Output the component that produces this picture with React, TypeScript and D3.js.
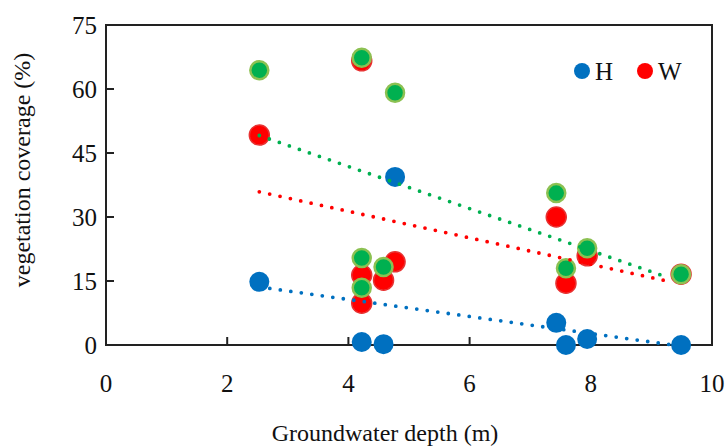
import React from "react";
import * as d3 from "d3";

const depthH = [2.53, 4.22, 4.58, 4.77, 7.43, 7.59, 7.94, 9.49];
const coverH = [14.8, 0.7, 0.2, 39.4, 5.2, 0, 1.4, 0];

const depthW = [2.53, 4.22, 4.22, 4.22, 4.58, 4.77, 7.43, 7.59, 7.94, 9.49];
const coverW = [49.2, 66.6, 16.4, 9.8, 15.2, 19.5, 30.0, 14.5, 20.9, 16.6];

const depthG = [2.53, 4.22, 4.22, 4.22, 4.58, 4.77, 7.43, 7.59, 7.94, 9.49];
const coverG = [64.4, 67.3, 20.4, 13.4, 18.3, 59.1, 35.6, 18.0, 22.7, 16.6];

// trendline end points: [x0, y0, x1, y1]
const trendH = [2.53, 13.6, 9.3, 0.1];
const trendW = [2.53, 35.9, 9.32, 14.8];
const trendG = [2.53, 49.1, 9.3, 15.7];

const xTicks = [0, 2, 4, 6, 8, 10];
const yTicks = [0, 15, 30, 45, 60, 75];

const legendLabels = ["H", "W"];

const W = 728;
const H = 448;
const m = { left: 106, right: 712, top: 25, bottom: 345 };

const BLUE = "#0070C0";
const RED = "#FF0000";
const GREEN = "#00B050";
const GREEN_EDGE = "#8CC152";
const FONT = "'Liberation Serif', 'Times New Roman', serif";

export default function App() {
  const x = d3.scaleLinear().domain([0, 10]).range([m.left, m.right]);
  const y = d3.scaleLinear().domain([0, 75]).range([m.bottom, m.top]);
  const line = d3
    .line<[number, number]>()
    .x((d) => x(d[0]))
    .y((d) => y(d[1]));
  const trend = (t: number[]) =>
    line([
      [t[0], t[1]],
      [t[2], t[3]],
    ]) || "";

  const r = 10;

  return (
    <svg
      width={W}
      height={H}
      style={{ position: "absolute", left: 0, top: 0, background: "#fff" }}
      fontFamily={FONT}
    >
      <defs>
        <filter id="soft" x="-50%" y="-50%" width="200%" height="200%">
          <feGaussianBlur stdDeviation="0.6" />
        </filter>
      </defs>
      {/* frame */}
      <rect
        x={m.left}
        y={m.top}
        width={m.right - m.left}
        height={m.bottom - m.top}
        fill="none"
        stroke="#222"
        strokeWidth={2}
      />
      {/* ticks */}
      {yTicks.slice(1, -1).map((t) => (
        <line key={"yt" + t} x1={m.left} x2={m.left + 8} y1={y(t)} y2={y(t)} stroke="#222" strokeWidth={2} />
      ))}
      {xTicks.slice(1, -1).map((t) => (
        <line key={"xt" + t} x1={x(t)} x2={x(t)} y1={m.bottom} y2={m.bottom - 8} stroke="#222" strokeWidth={2} />
      ))}
      {/* tick labels */}
      {yTicks.map((t) => (
        <text key={"yl" + t} x={m.left - 9} y={y(t)} dy="0.35em" textAnchor="end" fontSize={25} fill="#111">
          {t}
        </text>
      ))}
      {xTicks.map((t) => (
        <text key={"xl" + t} x={x(t)} y={m.bottom + 47} textAnchor="middle" fontSize={25} fill="#111">
          {t}
        </text>
      ))}
      {/* axis titles */}
      <text x={385} y={441} textAnchor="middle" fontSize={24} fill="#111">
        Groundwater depth (m)
      </text>
      <text
        transform={`translate(30, 170) rotate(-90)`}
        textAnchor="middle"
        fontSize={24}
        fill="#111"
      >
        vegetation coverage (%)
      </text>

      {/* markers */}
      {depthH.map((d, i) => (
        <circle key={"h" + i} cx={x(d)} cy={y(coverH[i])} r={r} fill={BLUE} />
      ))}
      {depthW.map((d, i) => (
        <circle
          key={"w" + i}
          cx={x(d)}
          cy={y(coverW[i])}
          r={r}
          fill={RED}
          stroke="#E83030"
          strokeWidth={1.5}
          filter="url(#soft)"
        />
      ))}
      {depthG.map((d, i) => (
        <circle
          key={"g" + i}
          cx={x(d)}
          cy={y(coverG[i])}
          r={r - 1}
          fill={GREEN}
          stroke={GREEN_EDGE}
          strokeWidth={2.5}
        />
      ))}

      {/* trendlines */}
      {[
        [trendH, BLUE],
        [trendW, RED],
        [trendG, GREEN],
      ].map(([t, c], i) => (
        <path
          key={"tr" + i}
          d={trend(t as number[])}
          fill="none"
          stroke={c as string}
          strokeWidth={3.8}
          strokeLinecap="round"
          strokeDasharray="0 10.6"
        />
      ))}

      {/* legend */}
      <g>
        <circle cx={582} cy={71} r={8} fill={BLUE} />
        <text x={595} y={80} fontSize={25} fill="#111">
          {legendLabels[0]}
        </text>
        <circle cx={645} cy={71} r={8} fill={RED} filter="url(#soft)" />
        <text x={658} y={80} fontSize={25} fill="#111">
          {legendLabels[1]}
        </text>
      </g>
    </svg>
  );
}
